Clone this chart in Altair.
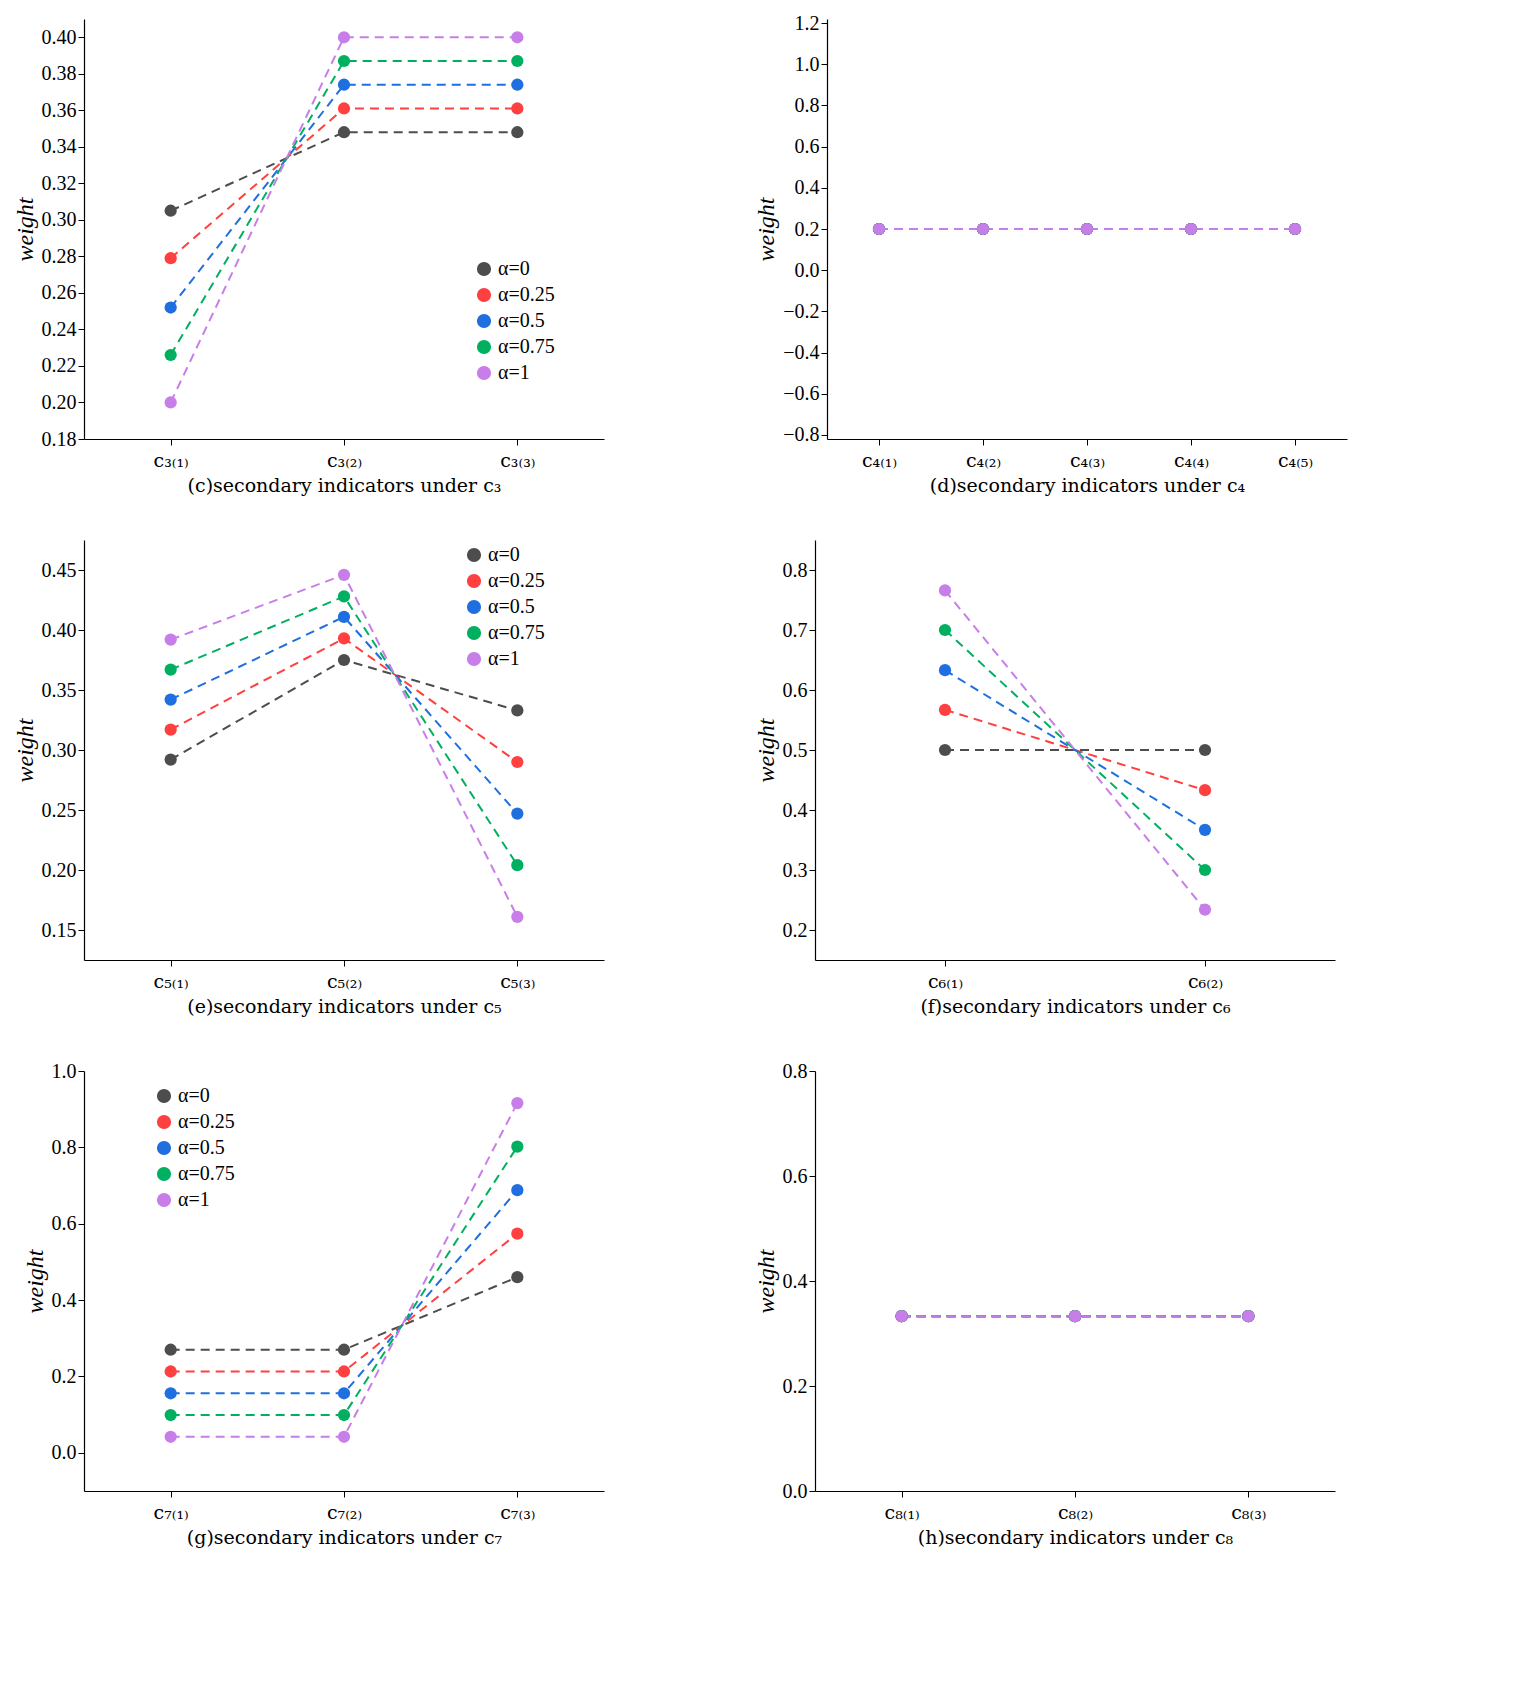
import altair as alt
import pandas as pd

alphas = ["α=0", "α=0.25", "α=0.5", "α=0.75", "α=1"]
colors = ["#4d4d4d", "#ff4040", "#1f6fe0", "#00b060", "#c87ee8"]

cats_c3 = ["c₃₍₁₎", "c₃₍₂₎", "c₃₍₃₎"]
vals_c3 = [[0.305, 0.348, 0.348], [0.279, 0.361, 0.361], [0.252, 0.374, 0.374],
           [0.226, 0.387, 0.387], [0.200, 0.400, 0.400]]
cats_c4 = ["c₄₍₁₎", "c₄₍₂₎", "c₄₍₃₎", "c₄₍₄₎", "c₄₍₅₎"]
vals_c4 = [[0.2] * 5 for _ in range(5)]
cats_c5 = ["c₅₍₁₎", "c₅₍₂₎", "c₅₍₃₎"]
vals_c5 = [[0.292, 0.375, 0.333], [0.317, 0.393, 0.290], [0.342, 0.411, 0.247],
           [0.367, 0.428, 0.204], [0.392, 0.446, 0.161]]
cats_c6 = ["c₆₍₁₎", "c₆₍₂₎"]
vals_c6 = [[0.5, 0.5], [0.567, 0.433], [0.633, 0.367], [0.7, 0.3], [0.766, 0.234]]
cats_c7 = ["c₇₍₁₎", "c₇₍₂₎", "c₇₍₃₎"]
vals_c7 = [[0.27, 0.27, 0.46], [0.213, 0.213, 0.574], [0.156, 0.156, 0.688],
           [0.099, 0.099, 0.802], [0.042, 0.042, 0.916]]
cats_c8 = ["c₈₍₁₎", "c₈₍₂₎", "c₈₍₃₎"]
vals_c8 = [[0.333] * 3 for _ in range(5)]

FONT = "Liberation Serif"
SUBFONT = "DejaVu Serif"
W, H = 520, 420


def panel(cats, vals, title, ydom, ystep, lx, ly):
    rows = []
    for a, series in zip(alphas, vals):
        for i, v in enumerate(series):
            rows.append({"idx": i + 1, "weight": v, "alpha": a, "ord": alphas.index(a)})
    df = pd.DataFrame(rows)
    n = len(cats)
    expr = "[" + ",".join("'" + c + "'" for c in cats) + "][datum.value-1]"
    yvals = []
    v = ydom[2]
    while v <= ydom[3] + 1e-9:
        yvals.append(round(v, 4))
        v += ystep
    x = alt.X("idx:Q", scale=alt.Scale(domain=[0.5, n + 0.5], nice=False),
              axis=alt.Axis(values=list(range(1, n + 1)), labelExpr=expr, title=title,
                            grid=False, labelFontSize=19, titleFontSize=19, labelFont=SUBFONT,
                            titleFont=SUBFONT,
                            titleFontWeight="normal", labelPadding=6, titlePadding=6))
    y = alt.Y("weight:Q", scale=alt.Scale(domain=[ydom[0], ydom[1]], nice=False, zero=False),
              axis=alt.Axis(values=yvals, grid=False, title="weight", titleFontStyle="italic",
                            titleFontSize=24, titleFontWeight="normal", labelFontSize=20,
                            format=".2f" if ystep < 0.1 else ".1f"))
    color = alt.Color("alpha:N", scale=alt.Scale(domain=alphas, range=colors),
                      legend=alt.Legend(title=None, orient="none", legendX=lx, legendY=ly,
                                        labelFontSize=20, symbolType="circle", symbolSize=160,
                                        labelFont=FONT, rowPadding=6))
    base = alt.Chart(df).encode(x=x, y=y, color=color, order="ord:Q", detail="alpha:N")
    lines = base.mark_line(strokeDash=[9, 6], strokeWidth=2)
    pts = base.mark_circle(size=150, opacity=1)
    return alt.layer(lines, pts).properties(width=W, height=H)


p_c = panel(cats_c3, vals_c3, "(c)secondary indicators under c₃", [0.18, 0.41, 0.18, 0.40], 0.02, 390, 240)
p_d = panel(cats_c4, vals_c4, "(d)secondary indicators under c₄", [-0.82, 1.22, -0.8, 1.2], 0.2, 390, 5)
p_e = panel(cats_c5, vals_c5, "(e)secondary indicators under c₅", [0.125, 0.475, 0.15, 0.45], 0.05, 380, 5)
p_f = panel(cats_c6, vals_c6, "(f)secondary indicators under c₆", [0.15, 0.85, 0.2, 0.8], 0.1, 380, 5)
p_g = panel(cats_c7, vals_c7, "(g)secondary indicators under c₇", [-0.1, 1.0, 0.0, 1.0], 0.2, 70, 15)
p_h = panel(cats_c8, vals_c8, "(h)secondary indicators under c₈", [0.0, 0.8, 0.0, 0.8], 0.2, 390, 5)

chart = alt.vconcat(
    alt.hconcat(p_c, p_d, spacing=150),
    alt.hconcat(p_e, p_f, spacing=150),
    alt.hconcat(p_g, p_h, spacing=150),
    spacing=45,
).resolve_legend(color="independent").resolve_scale(color="independent").configure_view(
    stroke=None
).configure_axis(
    labelFont=FONT, titleFont=FONT, domainColor="black", tickColor="black",
    labelColor="black", titleColor="black", domainWidth=1.2, tickSize=6
)

chart.save("out.html", embed_options={"renderer": "svg", "actions": False})
